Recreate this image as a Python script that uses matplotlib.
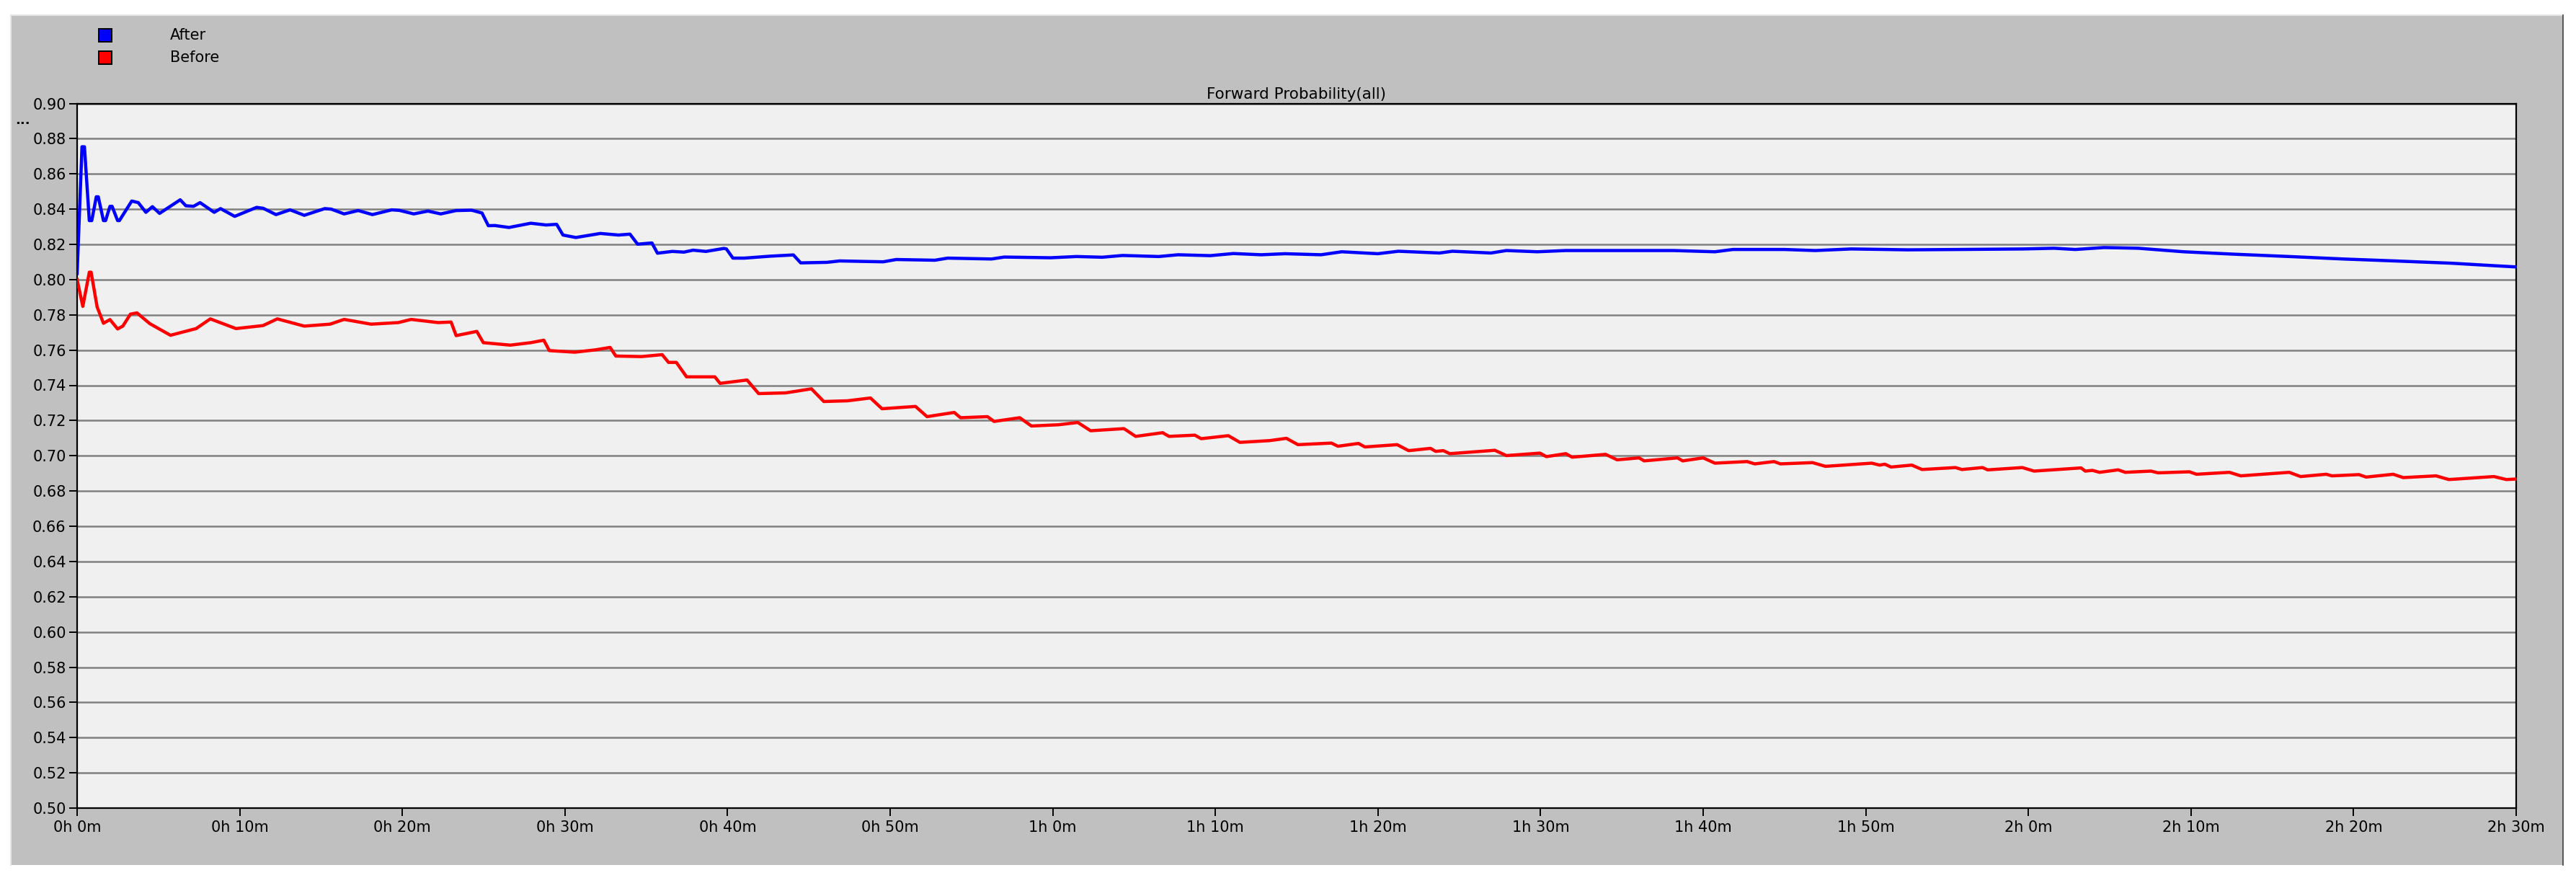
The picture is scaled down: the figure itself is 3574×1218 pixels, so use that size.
import matplotlib.pyplot as plt
from matplotlib.patches import Rectangle
from matplotlib.ticker import FormatStrFormatter, FixedLocator
import numpy as np


# simulation time in minutes
after_t = [0, 0.3, 0.45, 0.75, 0.9, 1.18, 1.3, 1.62, 1.75, 2.02,
           2.15, 2.49, 2.6, 3.36, 3.76, 4.23, 4.63, 5.07, 6.34, 6.69,
           7.16, 7.56, 8.43, 8.82, 9.69, 11.04, 11.44, 12.23, 13.10, 13.97,
           15.23, 15.63, 16.42, 17.29, 18.16, 19.35, 19.82, 20.70, 21.57, 22.36,
           23.31, 24.26, 24.90, 25.29, 25.69, 26.56, 27.90, 28.85, 29.49, 29.88,
           30.67, 32.18, 33.29, 34.0, 34.47, 35.35, 35.69, 36.61, 37.32, 37.88,
           38.67, 39.78, 39.93, 40.33, 41.04, 42.63, 44.05, 44.5, 46.11, 46.9,
           48.45, 49.58, 50.37, 52.75, 53.54, 56.23, 57.02, 59.87, 61.46, 63.04,
           64.3, 66.52, 67.71, 69.69, 71.11, 72.82, 74.29, 76.5, 77.77, 79.99,
           81.26, 83.79, 84.58, 86.95, 87.9, 89.8, 91.55, 94.55, 97.21, 98.18,
           100.72, 101.83, 104.99, 106.89, 109.11, 112.59, 115.76, 119.71, 121.58, 122.89,
           124.65, 126.75, 129.55, 132.71, 136.04, 139.37, 142.52, 146.03, 148.63, 150]
after_v = [0.8035, 0.8754, 0.8754, 0.8335, 0.8335, 0.847, 0.847, 0.8335, 0.8335, 0.8416,
           0.8416, 0.8335, 0.8335, 0.8446, 0.8437, 0.8382, 0.8414, 0.8376, 0.8453, 0.8419,
           0.8416, 0.8437, 0.8382, 0.8403, 0.8359, 0.8410, 0.8405, 0.8369, 0.8396, 0.8365,
           0.8403, 0.8400, 0.8373, 0.8392, 0.8369, 0.8396, 0.8393, 0.8373, 0.8389, 0.8373,
           0.8392, 0.8394, 0.8378, 0.8306, 0.8307, 0.8296, 0.8320, 0.8310, 0.8314, 0.8253,
           0.8239, 0.8262, 0.8253, 0.8258, 0.8201, 0.8208, 0.8150, 0.8160, 0.8156, 0.8167,
           0.8160, 0.8177, 0.8174, 0.8122, 0.8122, 0.8133, 0.8140, 0.8095, 0.8098, 0.8106,
           0.8103, 0.8101, 0.8114, 0.8110, 0.8122, 0.8117, 0.8128, 0.8124, 0.8131, 0.8127,
           0.8137, 0.8131, 0.8141, 0.8136, 0.8148, 0.8141, 0.8147, 0.8141, 0.8158, 0.8147,
           0.8161, 0.8151, 0.8161, 0.8151, 0.8165, 0.8158, 0.8165, 0.8165, 0.8165, 0.8165,
           0.8158, 0.8171, 0.8171, 0.8165, 0.8174, 0.8169, 0.8171, 0.8174, 0.8178, 0.8171,
           0.8182, 0.8178, 0.8158, 0.8144, 0.8131, 0.8117, 0.8106, 0.8093, 0.8079, 0.8072]

before_t = [0, 0.35, 0.75, 0.86, 1.23, 1.62, 2.02, 2.49, 2.81, 3.28,
            3.68, 4.47, 5.74, 7.32, 8.19, 9.77, 11.43, 12.31, 13.97, 15.55,
            16.42, 18.08, 19.75, 20.54, 22.2, 23.0, 23.31, 24.58, 24.98, 26.64,
            27.9, 28.7, 29.04, 30.6, 31.86, 32.78, 33.13, 34.71, 35.98, 36.37,
            36.85, 37.48, 39.22, 39.54, 41.2, 41.91, 43.58, 45.16, 45.92, 47.37,
            48.79, 49.5, 51.56, 52.27, 53.94, 54.33, 55.99, 56.39, 57.97, 58.69,
            60.35, 61.54, 62.33, 64.38, 65.1, 66.76, 67.15, 68.74, 69.13, 70.8,
            71.51, 73.34, 74.37, 75.08, 77.14, 77.54, 78.8, 79.2, 81.18, 81.89,
            83.23, 83.55, 84.02, 84.42, 87.19, 87.9, 89.96, 90.36, 91.55, 91.94,
            94.0, 94.71, 96.06, 96.37, 98.42, 98.74, 100.0, 100.72, 102.7, 103.17,
            104.36, 104.75, 106.73, 107.52, 110.37, 110.85, 111.17, 111.56, 112.83, 113.46,
            115.52, 115.91, 117.18, 117.5, 119.63, 120.35, 123.24, 123.5, 123.94, 124.38,
            125.52, 125.96, 127.54, 127.98, 129.9, 130.34, 132.36, 133.06, 136.04, 136.74,
            138.32, 138.67, 140.33, 140.77, 142.44, 143.05, 145.07, 145.86, 148.63, 149.4,
            150]
before_v = [0.8000, 0.7848, 0.8042, 0.8042, 0.7845, 0.7752, 0.7773, 0.7720, 0.7736, 0.7804,
            0.7811, 0.7750, 0.7684, 0.7722, 0.7777, 0.7722, 0.7739, 0.7777, 0.7736, 0.7747,
            0.7774, 0.7747, 0.7756, 0.7774, 0.7756, 0.7759, 0.7682, 0.7706, 0.7642, 0.7628,
            0.7642, 0.7656, 0.7597, 0.7588, 0.7601, 0.7615, 0.7566, 0.7563, 0.7574, 0.7530,
            0.7530, 0.7448, 0.7448, 0.7411, 0.7430, 0.7353, 0.7357, 0.7380, 0.7308, 0.7312,
            0.7328, 0.7267, 0.7280, 0.7222, 0.7246, 0.7216, 0.7222, 0.7195, 0.7216, 0.7169,
            0.7176, 0.7189, 0.7142, 0.7154, 0.7110, 0.7131, 0.7110, 0.7117, 0.7097, 0.7114,
            0.7076, 0.7086, 0.7099, 0.7063, 0.7072, 0.7054, 0.7070, 0.7050, 0.7063, 0.7029,
            0.7042, 0.7025, 0.7029, 0.7012, 0.7031, 0.7001, 0.7015, 0.6995, 0.7012, 0.6992,
            0.7008, 0.6977, 0.6988, 0.6971, 0.6988, 0.6971, 0.6988, 0.6958, 0.6967, 0.6954,
            0.6967, 0.6954, 0.6961, 0.6940, 0.6958, 0.6947, 0.6952, 0.6936, 0.6947, 0.6922,
            0.6933, 0.6922, 0.6933, 0.6920, 0.6933, 0.6913, 0.6931, 0.6913, 0.6917, 0.6906,
            0.6920, 0.6906, 0.6913, 0.6903, 0.6909, 0.6895, 0.6906, 0.6886, 0.6906, 0.6882,
            0.6895, 0.6886, 0.6893, 0.6879, 0.6895, 0.6876, 0.6886, 0.6865, 0.6882, 0.6865,
            0.6868]

series_names = ["After", "Before"]
series_colors = ["#0000ff", "#ff0000"]
chart_title = "Forward Probability(all)"

x_ticks = [0, 10, 20, 30, 40, 50, 60, 70, 80, 90, 100, 110, 120, 130, 140, 150]
x_tick_labels = ["0h 0m", "0h 10m", "0h 20m", "0h 30m", "0h 40m", "0h 50m",
                 "1h 0m", "1h 10m", "1h 20m", "1h 30m", "1h 40m", "1h 50m",
                 "2h 0m", "2h 10m", "2h 20m", "2h 30m"]

W, H, DPI = 3574, 1218, 100


def fx(px):
	return px / W


def fy(py):
	return 1 - py / H


fig = plt.figure(figsize=(W / DPI, H / DPI), dpi=DPI)
fig.patch.set_facecolor("white")

# grey OPNET-style panel
fig.patches.append(Rectangle((fx(15), fy(1200)), (3556 - 15) / W, (1200 - 21) / H,
                             transform=fig.transFigure, facecolor="#c0c0c0",
                             edgecolor="none", zorder=-2))
fig.lines.append(plt.Line2D([fx(15), fx(15), fx(3556)], [fy(1200), fy(21), fy(21)],
                            transform=fig.transFigure, color="#e6e6e6", lw=1.5, zorder=-1))
fig.lines.append(plt.Line2D([fx(3556), fx(3556)], [fy(21), fy(1200)],
                            transform=fig.transFigure, color="#404040", lw=1.2, zorder=-1))

ax = fig.add_axes([fx(107), fy(1121), (3491 - 107) / W, (1121 - 143.5) / H])
ax.set_facecolor("#f0f0f0")

ax.plot(after_t, after_v, color=series_colors[0], lw=3.2, zorder=3)
ax.plot(before_t, before_v, color=series_colors[1], lw=3.2, zorder=3)

ax.set_xlim(0, 150)
ax.set_ylim(0.50, 0.90)
ax.xaxis.set_major_locator(FixedLocator(x_ticks))
ax.set_xticklabels(x_tick_labels)
ax.set_yticks(np.arange(0.50, 0.901, 0.02))
ax.yaxis.set_major_formatter(FormatStrFormatter("%.2f"))

ax.grid(axis="y", color="#808080", lw=1.8, zorder=1)
ax.set_axisbelow(True)
for side in ax.spines.values():
	side.set_color("black")
	side.set_linewidth(1.6)

ax.tick_params(axis="both", direction="out", length=8, width=1.4, color="black",
               labelsize=15, labelcolor="black")
ax.tick_params(axis="y", pad=3)
ax.tick_params(axis="x", pad=4)

ax.set_title(chart_title, fontsize=15.5, pad=5)

# legend drawn as small coloured squares, like the original tool
legend_rows = [49, 80]
for name, color, py in zip(series_names, series_colors, legend_rows):
	fig.patches.append(Rectangle((fx(137), fy(py + 8.5)), 18 / W, 17 / H,
	                             transform=fig.transFigure, facecolor=color,
	                             edgecolor="black", lw=1.4, zorder=2))
	fig.text(fx(236), fy(py), name, fontsize=15, va="center", ha="left")

fig.text(fx(21), fy(172), "...", fontsize=13, fontweight="bold", va="baseline", ha="left")

fig.savefig("out.png", dpi=DPI)
